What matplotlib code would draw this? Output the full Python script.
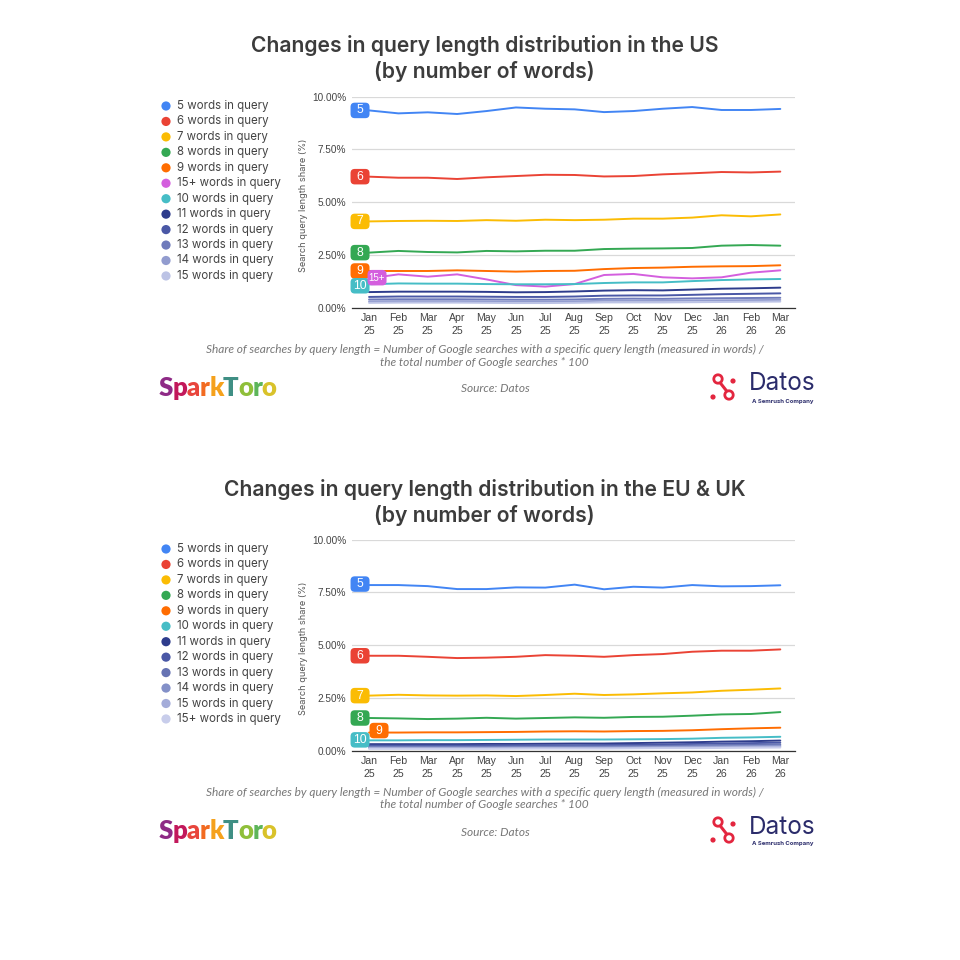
import matplotlib
matplotlib.use("Agg")
import matplotlib.pyplot as plt
from matplotlib.patches import Circle, FancyBboxPatch
from matplotlib.lines import Line2D

months = ["Jan\n25", "Feb\n25", "Mar\n25", "Apr\n25", "May\n25", "Jun\n25", "Jul\n25",
          "Aug\n25", "Sep\n25", "Oct\n25", "Nov\n25", "Dec\n25", "Jan\n26", "Feb\n26", "Mar\n26"]
y_ticks = [0, 2.5, 5, 7.5, 10]
y_tick_labels = ["0.00%", "2.50%", "5.00%", "7.50%", "10.00%"]

# ---------------- US ----------------
us_5 = [9.35, 9.21, 9.26, 9.18, 9.32, 9.49, 9.43, 9.40, 9.27, 9.32, 9.43, 9.51, 9.37, 9.37, 9.42]
us_6 = [6.21, 6.16, 6.16, 6.10, 6.18, 6.24, 6.30, 6.29, 6.22, 6.24, 6.32, 6.37, 6.43, 6.41, 6.45]
us_7 = [4.09, 4.11, 4.12, 4.11, 4.15, 4.12, 4.17, 4.15, 4.17, 4.22, 4.22, 4.27, 4.38, 4.33, 4.42]
us_8 = [2.61, 2.69, 2.64, 2.62, 2.69, 2.67, 2.70, 2.70, 2.78, 2.80, 2.81, 2.83, 2.94, 2.97, 2.94]
us_9 = [1.74, 1.74, 1.74, 1.77, 1.74, 1.71, 1.74, 1.75, 1.83, 1.88, 1.90, 1.94, 1.96, 1.97, 2.01]
us_15p = [1.39, 1.58, 1.47, 1.58, 1.34, 1.07, 1.00, 1.12, 1.55, 1.60, 1.44, 1.39, 1.44, 1.66, 1.77]
us_10 = [1.11, 1.15, 1.14, 1.14, 1.12, 1.11, 1.11, 1.12, 1.17, 1.20, 1.20, 1.26, 1.31, 1.34, 1.36]
us_11 = [0.74, 0.76, 0.76, 0.76, 0.75, 0.73, 0.74, 0.77, 0.81, 0.83, 0.82, 0.86, 0.90, 0.92, 0.95]
us_12 = [0.51, 0.53, 0.53, 0.53, 0.52, 0.51, 0.51, 0.53, 0.57, 0.58, 0.58, 0.61, 0.64, 0.66, 0.68]
us_13 = [0.39, 0.40, 0.40, 0.40, 0.39, 0.38, 0.38, 0.39, 0.42, 0.43, 0.42, 0.44, 0.45, 0.46, 0.47]
us_14 = [0.30, 0.31, 0.31, 0.31, 0.30, 0.29, 0.29, 0.30, 0.33, 0.33, 0.33, 0.34, 0.35, 0.36, 0.37]
us_15 = [0.23, 0.24, 0.24, 0.24, 0.23, 0.22, 0.22, 0.23, 0.25, 0.25, 0.25, 0.26, 0.27, 0.28, 0.29]

us_names = ["5", "6", "7", "8", "9", "15+", "10", "11", "12", "13", "14", "15"]
us_values = [us_5, us_6, us_7, us_8, us_9, us_15p, us_10, us_11, us_12, us_13, us_14, us_15]
us_colors = ["#4285F4", "#EA4335", "#FBBC04", "#34A853", "#FF6D01", "#D45FDE", "#46BDC6",
             "#2E3C8C", "#4A58A6", "#6F7BBB", "#929CCF", "#BCC3E5"]

# ---------------- EU & UK ----------------
eu_5 = [7.85, 7.85, 7.80, 7.66, 7.66, 7.74, 7.73, 7.87, 7.65, 7.77, 7.73, 7.85, 7.79, 7.80, 7.84]
eu_6 = [4.50, 4.50, 4.45, 4.39, 4.41, 4.45, 4.53, 4.50, 4.45, 4.53, 4.58, 4.69, 4.74, 4.74, 4.80]
eu_7 = [2.61, 2.65, 2.62, 2.61, 2.62, 2.59, 2.64, 2.70, 2.64, 2.67, 2.72, 2.76, 2.84, 2.89, 2.95]
eu_8 = [1.55, 1.53, 1.50, 1.52, 1.56, 1.52, 1.55, 1.58, 1.56, 1.60, 1.61, 1.66, 1.72, 1.74, 1.83]
eu_9 = [0.86, 0.86, 0.87, 0.87, 0.88, 0.89, 0.91, 0.92, 0.91, 0.93, 0.94, 0.97, 1.02, 1.06, 1.09]
eu_10 = [0.49, 0.49, 0.50, 0.50, 0.51, 0.52, 0.53, 0.53, 0.53, 0.54, 0.55, 0.57, 0.61, 0.63, 0.66]
eu_11 = [0.31, 0.31, 0.31, 0.31, 0.32, 0.32, 0.33, 0.34, 0.34, 0.36, 0.38, 0.40, 0.43, 0.45, 0.48]
eu_12 = [0.24, 0.24, 0.24, 0.24, 0.25, 0.25, 0.26, 0.26, 0.27, 0.28, 0.30, 0.32, 0.34, 0.36, 0.38]
eu_13 = [0.19, 0.19, 0.19, 0.19, 0.19, 0.20, 0.20, 0.21, 0.21, 0.22, 0.23, 0.25, 0.27, 0.28, 0.30]
eu_14 = [0.15, 0.15, 0.15, 0.15, 0.15, 0.16, 0.16, 0.16, 0.17, 0.17, 0.18, 0.20, 0.21, 0.22, 0.24]
eu_15 = [0.12, 0.12, 0.12, 0.12, 0.12, 0.12, 0.13, 0.13, 0.13, 0.14, 0.15, 0.16, 0.17, 0.18, 0.19]
eu_15p = [0.09, 0.09, 0.09, 0.09, 0.09, 0.10, 0.10, 0.10, 0.10, 0.11, 0.12, 0.12, 0.13, 0.14, 0.15]

eu_names = ["5", "6", "7", "8", "9", "10", "11", "12", "13", "14", "15", "15+"]
eu_values = [eu_5, eu_6, eu_7, eu_8, eu_9, eu_10, eu_11, eu_12, eu_13, eu_14, eu_15, eu_15p]
eu_colors = ["#4285F4", "#EA4335", "#FBBC04", "#34A853", "#FF6D01", "#46BDC6",
             "#2E3C8C", "#4A58A6", "#6673B3", "#8390C8", "#A4ACD9", "#C8CDEB"]

# label placement (style): name -> (dx px from first point, dy px (down +), draw order)
us_label_offsets = {"5": (-9, 0, 1), "6": (-9, 0, 1), "7": (-9, 0, 1), "8": (-9, 0, 1),
                    "9": (-9, 0, 1), "10": (-9, 1.5, 2), "15+": (8, -0.7, 3)}
eu_label_offsets = {"5": (-9, -1, 1), "6": (-9, 0, 1), "7": (-9, 0, 1), "8": (-9, 0, 1),
                    "10": (-9, -0.5, 2), "9": (10, -2, 3)}

W = H = 960
fig = plt.figure(figsize=(9.6, 9.6), dpi=100)
fig.patch.set_facecolor("white")

TEXT = "#3c3c3c"
GRAY = "#777777"
SANS = ["Inter", "DejaVu Sans"]


def fx(px):
    return px / W


def fy(py):
    return 1 - py / H


def draw_letters(x_px, y_px, letters, colors, size, weight="heavy"):
    renderer = fig.canvas.get_renderer()
    x = fx(x_px)
    for ch, c in zip(letters, colors):
        t = fig.text(x, fy(y_px), ch, color=c, fontsize=size, fontweight=weight,
                     family=["Lato", "DejaVu Sans"], va="center", ha="left")
        bb = t.get_window_extent(renderer=renderer)
        x += bb.width / W * 0.96


def panel(dy, title_region, names, values, colors, offsets):
    # title
    fig.text(0.505, fy(46 + dy), "Changes in query length distribution in the " + title_region,
             ha="center", va="center", fontsize=15.2, fontweight="semibold", color=TEXT,
             family=SANS)
    fig.text(0.505, fy(72 + dy), "(by number of words)",
             ha="center", va="center", fontsize=15.2, fontweight="semibold", color=TEXT,
             family=SANS)

    # axes
    top, bottom = 96.7 + dy, 307.7 + dy
    ax = fig.add_axes([fx(352), fy(bottom), fx(795 - 352), (bottom - top) / H])
    x = list(range(len(months)))
    for name, vals, col in zip(names, values, colors):
        ax.plot(x, vals, color=col, lw=1.4, solid_capstyle="round", zorder=3)
    ax.set_xlim(-0.58, 14.5)
    ax.set_ylim(0, 10)
    ax.set_yticks(y_ticks)
    ax.set_yticklabels(y_tick_labels)
    ax.set_xticks(x)
    ax.set_xticklabels(months, linespacing=1.3)
    ax.tick_params(axis="both", length=0, labelsize=7.6, labelcolor="#444444")
    for lab in ax.get_xticklabels() + ax.get_yticklabels():
        lab.set_family(["Liberation Sans", "DejaVu Sans"])
    ax.tick_params(axis="y", pad=4, labelsize=7.2)
    ax.tick_params(axis="x", pad=4)
    ax.grid(axis="y", color="#d9d9d9", lw=0.9)
    ax.set_axisbelow(True)
    for s in ["top", "right", "left"]:
        ax.spines[s].set_visible(False)
    ax.spines["bottom"].set_color("#333333")
    ax.spines["bottom"].set_linewidth(0.9)

    # data labels at first point (box drawn in pixel units next to the data position)
    items = [(offsets[n][2], n, v, c) for n, v, c in zip(names, values, colors) if n in offsets]
    items.sort(key=lambda t: t[0])
    for order, name, vals, col in items:
        dxp, dyp, _ = offsets[name]
        px, py = ax.transData.transform((0, vals[0]))
        cx, cyy = px + dxp, py - dyp
        bw = 19
        bh = 15.5
        box = FancyBboxPatch(((cx - bw / 2) / W, (cyy - bh / 2) / H), bw / W, bh / H,
                             boxstyle=f"round,pad=0,rounding_size={4.2 / W}",
                             transform=fig.transFigure, facecolor=col, edgecolor="none",
                             zorder=10 + order * 2)
        fig.patches.append(box)
        fig.text(cx / W, cyy / H, name, ha="center", va="center",
                 fontsize=8.8 if len(name) < 3 else 7.0, color="white",
                 family=["Liberation Sans", "DejaVu Sans"], zorder=11 + order * 2)

    # y label
    fig.text(fx(303), fy(205 + dy), "Search query length share (%)", rotation=90,
             ha="center", va="center", fontsize=6.6, color="#555555", family=SANS)

    # legend
    for i, (name, col) in enumerate(zip(names, colors)):
        yy = 106 + dy + i * 15.45
        fig.patches.append(Circle((fx(166), fy(yy)), 4.6 / W, transform=fig.transFigure,
                                  facecolor=col, edgecolor="none"))
        fig.text(fx(177), fy(yy), f"{name} words in query", ha="left", va="center",
                 fontsize=8.3, color="#444444", family=SANS)

    # footnote
    fn = ["Lato", "DejaVu Sans"]
    fig.text(0.505, fy(349 + dy),
             "Share of searches by query length = Number of Google searches with a specific "
             "query length (measured in words) /",
             ha="center", va="center", fontsize=8.6, style="italic", color=GRAY, family=fn)
    fig.text(0.505, fy(362 + dy), "the total number of Google searches * 100",
             ha="center", va="center", fontsize=8.6, style="italic", color=GRAY, family=fn)
    fig.text(fx(495), fy(389 + dy), "Source: Datos", ha="center", va="center",
             fontsize=8.6, style="italic", color=GRAY, family=fn)

    # SparkToro wordmark
    draw_letters(159, 388 + dy, list("SparkToro"),
                 ["#8e2a86", "#c2185b", "#e8453c", "#f26b21", "#f5a11c", "#3f8f84",
                  "#8fbf3a", "#5db55a", "#d9c22a"], 18.5)

    # Datos logo
    red = "#e3263f"
    cy = 386 + dy
    fig.lines.append(Line2D([fx(718), fx(729)], [fy(cy - 6), fy(cy + 8)],
                            transform=fig.transFigure, color=red, lw=2.2))
    fig.patches.append(Circle((fx(718), fy(cy - 7)), 4.2 / W, transform=fig.transFigure,
                              facecolor="white", edgecolor=red, lw=2.0, zorder=3))
    fig.patches.append(Circle((fx(729), fy(cy + 9)), 4.2 / W, transform=fig.transFigure,
                              facecolor="white", edgecolor=red, lw=2.0, zorder=3))
    fig.patches.append(Circle((fx(733), fy(cy - 5)), 2.6 / W, transform=fig.transFigure,
                              facecolor=red, edgecolor="none", zorder=3))
    fig.patches.append(Circle((fx(713), fy(cy + 11)), 2.6 / W, transform=fig.transFigure,
                              facecolor=red, edgecolor="none", zorder=3))
    fig.text(fx(749), fy(cy - 2), "Datos", ha="left", va="center", fontsize=17.5,
             color="#2b2c6b", family=SANS)
    fig.text(fx(752), fy(cy + 15), "A Semrush Company", ha="left", va="center",
             fontsize=4.3, color="#2b2c6b", family=SANS, fontweight="bold")


panel(0, "US", us_names, us_values, us_colors, us_label_offsets)
panel(443, "EU & UK", eu_names, eu_values, eu_colors, eu_label_offsets)

fig.savefig("out.png", dpi=100, facecolor="white")
